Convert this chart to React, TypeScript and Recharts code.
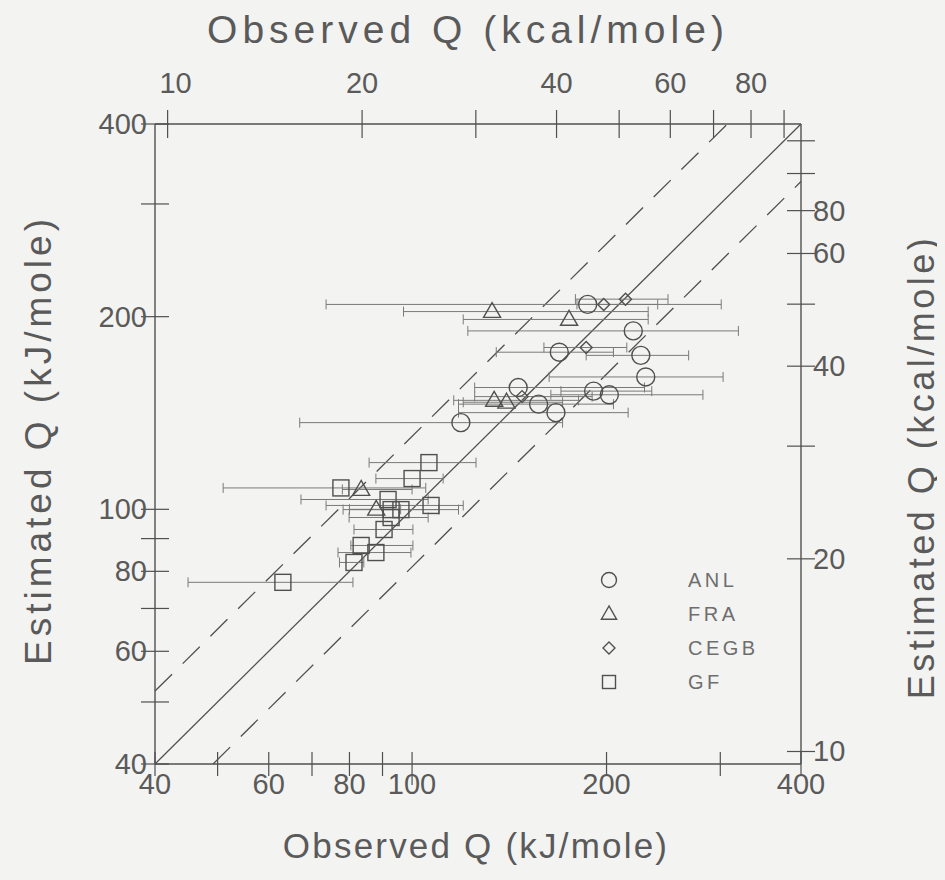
import React from 'react';
import { ScatterChart, Scatter, XAxis, YAxis, ErrorBar, ReferenceLine, Legend } from 'recharts';

// ---------- axis ticks ----------
const kjTicks = [40, 50, 60, 70, 80, 90, 100, 200, 300, 400];
const kjLabels = [40, 60, 80, 100, 200, 400];
const kcalTicks = [10, 20, 30, 40, 50, 60, 70, 80, 90];
const topKcalLabels = [10, 20, 40, 60, 80];
// right-hand kcal axis: tick (kcal) that carries each printed label, as printed in the source figure
const rightLabelTicks = [10, 20, 40, 60, 70];
const rightLabelTexts = ['10', '20', '40', '60', '80'];
const KJ_PER_KCAL = 4.184;
const DOMAIN: [number, number] = [40, 400];
const BAND_UP = 1.3;
const BAND_DOWN = 1.23;

// ---------- series (observed Q, estimated Q, observed low, observed high) in kJ/mole ----------
const anlX = [187, 220, 169, 226, 230, 146, 191, 202, 157, 167, 119];
const anlY = [209, 190, 176, 174, 161, 155, 153, 151, 146, 141.6, 136.6];
const anlLo = [73.6, 122, 135, 186, 163, 125, 170, 164, 118, 118, 67];
const anlHi = [301, 320, 205, 268, 303, 229, 235, 282, 205, 216, 171];

const fraX = [133, 175, 134, 140, 83.4, 88];
const fraY = [203.7, 198, 148, 147, 107.4, 100];
const fraLo = [97, 120, 116, 120, 78, 80];
const fraHi = [232, 232, 181, 171, 100, 96];

const cegbX = [198, 214, 186, 148];
const cegbY = [209, 213, 179, 150];
const cegbLo = [180, 179, 160, 125];
const cegbHi = [240, 249, 215, 190];

const gfX = [106.2, 100, 77.6, 91.8, 107, 92.8, 96.1, 92.8, 90.5, 83.4, 87.9, 81.3, 63.1];
const gfY = [118.3, 111.7, 108, 103.6, 101.4, 99.9, 99.9, 97.1, 93, 87.8, 85.6, 82.6, 76.9];
const gfLo = [85.8, 87.9, 51, 67.3, 73.6, 78.2, 80, 79.9, 81.3, 80.4, 76.8, 77.2, 45];
const gfHi = [125.6, 111.7, 105, 105.9, 120, 118, 110, 105.9, 100.3, 100.3, 99.6, 84.2, 81];

const legendNames = ['ANL', 'FRA', 'CEGB', 'GF'];

// ---------- styles ----------
const INK = '#505050';
const BAR = '#7a7a7a';
const TXT = '#5a5a5a';
const BG = '#f3f3f1';
const FONT = '"Liberation Sans", Arial, Helvetica, sans-serif';

const build = (xs: number[], ys: number[], lo: number[], hi: number[]) =>
  xs.map((x, i) => ({ x, y: ys[i], err: [x - lo[i], hi[i] - x] }));

const anlData = build(anlX, anlY, anlLo, anlHi);
const fraData = build(fraX, fraY, fraLo, fraHi);
const cegbData = build(cegbX, cegbY, cegbLo, cegbHi);
const gfData = build(gfX, gfY, gfLo, gfHi);

const kcalTickKj = kcalTicks.map((k) => k * KJ_PER_KCAL);

const Sym = ({ kind, cx, cy, s }: { kind: string; cx: number; cy: number; s: number }) => {
  const common = { fill: 'none', stroke: INK, strokeWidth: 1.4 };
  if (kind === 'circle') return <circle cx={cx} cy={cy} r={s} {...common} />;
  if (kind === 'triangle')
    return (
      <polygon
        points={`${cx},${cy - s} ${cx - s * 0.95},${cy + s * 0.65} ${cx + s * 0.95},${cy + s * 0.65}`}
        {...common}
      />
    );
  if (kind === 'diamond')
    return <polygon points={`${cx},${cy - s} ${cx + s},${cy} ${cx},${cy + s} ${cx - s},${cy}`} {...common} />;
  return <rect x={cx - s} y={cy - s} width={2 * s} height={2 * s} {...common} />;
};

const legendKinds = ['circle', 'triangle', 'diamond', 'square'];
const legendSizes = [7.5, 8, 6, 6.5];

const textStyle = { fontFamily: FONT, fill: TXT };

const BottomTick = (p: any) => {
  const v = p.payload.value;
  const major = v === 100;
  return (
    <g>
      <line x1={p.x} x2={p.x} y1={p.y - 12} y2={p.y + (major ? 21 : 12)} stroke={INK} strokeWidth={1.2} />
      {kjLabels.includes(v) && (
        <text x={p.x} y={p.y + 20} textAnchor="middle" dominantBaseline="central" fontSize={29} {...textStyle}>
          {v}
        </text>
      )}
    </g>
  );
};

const LeftTick = (p: any) => {
  const v = p.payload.value;
  return (
    <g>
      <line x1={p.x - 14} x2={p.x + 14} y1={p.y} y2={p.y} stroke={INK} strokeWidth={1.2} />
      {kjLabels.includes(v) && (
        <text x={p.x - 8} y={p.y} textAnchor="end" dominantBaseline="central" fontSize={29} {...textStyle}>
          {v}
        </text>
      )}
    </g>
  );
};

const TopTick = (p: any) => {
  const k = Math.round(p.payload.value / KJ_PER_KCAL);
  return (
    <g>
      <line x1={p.x} x2={p.x} y1={p.y - 14} y2={p.y + 14} stroke={INK} strokeWidth={1.2} />
      {topKcalLabels.includes(k) && (
        <text x={p.x + (k === 10 ? 8 : 0)} y={p.y - 41} textAnchor="middle" dominantBaseline="central" fontSize={29} {...textStyle}>
          {k}
        </text>
      )}
    </g>
  );
};

const RightTick = (p: any) => {
  const k = Math.round(p.payload.value / KJ_PER_KCAL);
  const li = rightLabelTicks.indexOf(k);
  return (
    <g>
      <line x1={p.x - 14} x2={p.x + 14} y1={p.y} y2={p.y} stroke={INK} strokeWidth={1.2} />
      {li >= 0 && (
        <text x={p.x + 12} y={p.y} textAnchor="start" dominantBaseline="central" fontSize={29} {...textStyle}>
          {rightLabelTexts[li]}
        </text>
      )}
    </g>
  );
};

const titleProps = { fontSize: 35, letterSpacing: 2.2, ...textStyle };

const shapeFor = (kind: string, s: number) => (p: any) => <Sym kind={kind} cx={p.cx} cy={p.cy} s={s} />;
const noShape = () => <g />;

const LegendBox = () => (
  <div style={{ fontFamily: FONT, color: '#6e6e6e', fontSize: 20, letterSpacing: 3.5 }}>
    {legendNames.map((n, i) => (
      <div key={n} style={{ display: 'flex', alignItems: 'center', height: 34 }}>
        <svg width={40} height={30} style={{ overflow: 'visible' }}>
          <Sym kind={legendKinds[i]} cx={19} cy={15} s={legendSizes[i]} />
        </svg>
        <span style={{ marginLeft: 58 }}>{n}</span>
      </div>
    ))}
  </div>
);

const axisLine = { stroke: INK, strokeWidth: 1.4 };

export default function App() {
  return (
    <div style={{ margin: -8, width: 945, height: 880, background: BG }}>
      <style>{`html,body{background:${BG};}`}</style>
      <ScatterChart width={945} height={880} margin={{ top: 123, left: 154, right: 143, bottom: 115 }}>
        <XAxis
          xAxisId="b"
          dataKey="x"
          type="number"
          scale="log"
          domain={DOMAIN}
          allowDataOverflow
          ticks={kjTicks}
          interval={0}
          height={1}
          tickSize={0}
          tickMargin={0}
          tick={<BottomTick />}
          axisLine={axisLine}
          tickLine={false}
          label={{
            content: (p: any) => (
              <text x={p.viewBox.x + p.viewBox.width / 2 - 2} y={p.viewBox.y + 81} textAnchor="middle" dominantBaseline="central" {...titleProps}>
                Observed Q (kJ/mole)
              </text>
            ),
          }}
        />
        <XAxis
          xAxisId="t"
          dataKey="x"
          orientation="top"
          type="number"
          scale="log"
          domain={DOMAIN}
          allowDataOverflow
          ticks={kcalTickKj}
          interval={0}
          height={1}
          tickSize={0}
          tickMargin={0}
          tick={<TopTick />}
          axisLine={axisLine}
          tickLine={false}
          label={{
            content: (p: any) => (
              <text x={p.viewBox.x + p.viewBox.width / 2 - 10} y={29} textAnchor="middle" dominantBaseline="central" {...titleProps} fontSize={39} letterSpacing={5}>
                Observed Q (kcal/mole)
              </text>
            ),
          }}
        />
        <YAxis
          yAxisId="l"
          dataKey="y"
          type="number"
          scale="log"
          domain={DOMAIN}
          allowDataOverflow
          ticks={kjTicks}
          interval={0}
          width={1}
          tickSize={0}
          tickMargin={0}
          tick={<LeftTick />}
          axisLine={axisLine}
          tickLine={false}
          label={{
            content: (p: any) => {
              const cx = 38;
              const cy = p.viewBox.y + p.viewBox.height / 2 - 4;
              return (
                <text x={cx} y={cy} transform={`rotate(-90 ${cx} ${cy})`} textAnchor="middle" dominantBaseline="central" {...titleProps} fontSize={37} letterSpacing={4}>
                  Estimated Q (kJ/mole)
                </text>
              );
            },
          }}
        />
        <YAxis
          yAxisId="r"
          dataKey="y"
          orientation="right"
          type="number"
          scale="log"
          domain={DOMAIN}
          allowDataOverflow
          ticks={kcalTickKj}
          interval={0}
          width={1}
          tickSize={0}
          tickMargin={0}
          tick={<RightTick />}
          axisLine={axisLine}
          tickLine={false}
          label={{
            content: (p: any) => {
              const cx = 921;
              const cy = p.viewBox.y + p.viewBox.height / 2 + 23;
              return (
                <text x={cx} y={cy} transform={`rotate(-90 ${cx} ${cy})`} textAnchor="middle" dominantBaseline="central" {...titleProps} fontSize={36} letterSpacing={3.5}>
                  Estimated Q (kcal/mole)
                </text>
              );
            },
          }}
        />
        <ReferenceLine
          xAxisId="b"
          yAxisId="l"
          segment={[{ x: DOMAIN[0], y: DOMAIN[0] }, { x: DOMAIN[1], y: DOMAIN[1] }]}
          stroke={INK}
          strokeWidth={1.3}
          ifOverflow="visible"
        />
        <ReferenceLine
          xAxisId="b"
          yAxisId="l"
          segment={[{ x: DOMAIN[0], y: DOMAIN[0] * BAND_UP }, { x: DOMAIN[1] / BAND_UP, y: DOMAIN[1] }]}
          stroke={INK}
          strokeWidth={1.3}
          strokeDasharray="24 15"
          ifOverflow="visible"
        />
        <ReferenceLine
          xAxisId="b"
          yAxisId="l"
          segment={[{ x: DOMAIN[0] * BAND_DOWN, y: DOMAIN[0] }, { x: DOMAIN[1], y: DOMAIN[1] / BAND_DOWN }]}
          stroke={INK}
          strokeWidth={1.3}
          strokeDasharray="24 15"
          ifOverflow="visible"
        />
        {/* carrier series so the kcal axes (top / right) get their scales */}
        <Scatter xAxisId="t" yAxisId="r" data={gfData} isAnimationActive={false} shape={noShape} legendType="none" />
        <Scatter xAxisId="b" yAxisId="l" name="GF" data={gfData} isAnimationActive={false} shape={shapeFor('square', 8)}>
          <ErrorBar dataKey="err" direction="x" width={5} stroke={BAR} strokeWidth={1} />
        </Scatter>
        <Scatter xAxisId="b" yAxisId="l" name="CEGB" data={cegbData} isAnimationActive={false} shape={shapeFor('diamond', 6)}>
          <ErrorBar dataKey="err" direction="x" width={5} stroke={BAR} strokeWidth={1} />
        </Scatter>
        <Scatter xAxisId="b" yAxisId="l" name="FRA" data={fraData} isAnimationActive={false} shape={shapeFor('triangle', 9)}>
          <ErrorBar dataKey="err" direction="x" width={5} stroke={BAR} strokeWidth={1} />
        </Scatter>
        <Scatter xAxisId="b" yAxisId="l" name="ANL" data={anlData} isAnimationActive={false} shape={shapeFor('circle', 9)}>
          <ErrorBar dataKey="err" direction="x" width={5} stroke={BAR} strokeWidth={1} />
        </Scatter>
        <Legend
          layout="vertical"
          align="center"
          verticalAlign="middle"
          content={() => <LegendBox />}
          wrapperStyle={{ left: 590, top: 563, width: 200 }}
        />
      </ScatterChart>
    </div>
  );
}
